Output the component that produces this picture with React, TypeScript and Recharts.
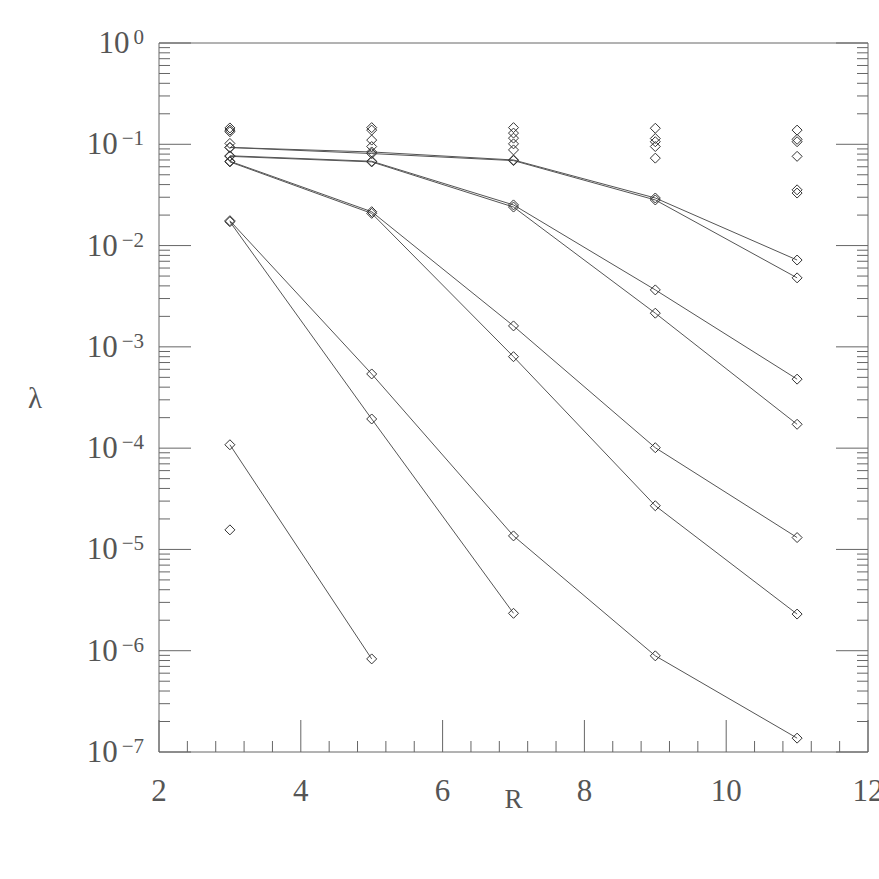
import React from 'react';
import { ScatterChart, Scatter, XAxis, YAxis } from 'recharts';

// ---- data ----
const R_VALUES = [3, 5, 7, 9, 11];

// connected series (values at R = 3, 5, 7, 9, 11)
const SERIES_A1 = [0.093, 0.084, 0.070, 0.0295, 0.0072];
const SERIES_A2 = [0.093, 0.081, 0.069, 0.0282, 0.0048];
const SERIES_B1 = [0.077, 0.068, 0.0252, 0.00365, 0.00048];
const SERIES_B2 = [0.076, 0.067, 0.024, 0.00215, 0.000172];
const SERIES_C1 = [0.068, 0.0216, 0.00161, 0.000101, 0.0000131];
const SERIES_C2 = [0.067, 0.0208, 0.0008, 0.000027, 0.0000023];
const SERIES_D1 = [0.0176, 0.00054, 0.0000136, 0.00000089, 0.000000137];
const SERIES_D2 = [0.0172, 0.000194, 0.00000234];
const SERIES_E1 = [0.000108, 0.00000083];

// isolated points
const POINTS_R3 = [0.145, 0.138, 0.133, 0.102, 0.0000156];
const POINTS_R5 = [0.146, 0.138, 0.11, 0.095];
const POINTS_R7 = [0.146, 0.129, 0.115, 0.101, 0.088];
const POINTS_R9 = [0.144, 0.114, 0.106, 0.095, 0.073];
const POINTS_R11 = [0.138, 0.112, 0.106, 0.076, 0.0355, 0.033];

// axis ticks
const X_TICKS = [2, 2.4, 2.8, 3.2, 3.6, 4, 4.4, 4.8, 5.2, 5.6, 6, 6.4, 6.8, 7.2, 7.6, 8, 8.4, 8.8, 9.2, 9.6, 10, 10.4, 10.8, 11.2, 11.6, 12];
const X_LABELED = [2, 4, 6, 8, 10, 12];
const DECADE_EXPONENTS = [-7, -6, -5, -4, -3, -2, -1, 0];
const MINOR_MULTIPLIERS = [2, 3, 4, 5, 6, 7, 8, 9];
const Y_TICKS: number[] = [];
DECADE_EXPONENTS.forEach((e) => {
  Y_TICKS.push(Math.pow(10, e));
  if (e < 0) MINOR_MULTIPLIERS.forEach((m) => Y_TICKS.push(m * Math.pow(10, e)));
});

const toPoints = (vals: number[]) => vals.map((v, i) => ({ x: R_VALUES[i], y: v }));
const toColumn = (r: number, vals: number[]) => vals.map((v) => ({ x: r, y: v }));

const LINES = [SERIES_A1, SERIES_A2, SERIES_B1, SERIES_B2, SERIES_C1, SERIES_C2, SERIES_D1, SERIES_D2, SERIES_E1];
const COLUMNS: [number, number[]][] = [
  [3, POINTS_R3],
  [5, POINTS_R5],
  [7, POINTS_R7],
  [9, POINTS_R9],
  [11, POINTS_R11],
];

// ---- styles ----
const AXIS = '#666';
const TEXT = '#555';
const LINE = '#555';
const MARK = '#333';
const FONT = '"Liberation Serif", "DejaVu Serif", serif';
const MAJOR = 32;
const MINOR = 11;

const isMajorX = (v: number) => X_LABELED.some((t) => Math.abs(t - v) < 1e-6);
const decadeOf = (v: number) => {
  const e = Math.log10(v);
  const r = Math.round(e);
  return Math.abs(e - r) < 1e-6 ? r : null;
};

const BottomTick = (props: any) => {
  const { x, y, payload } = props;
  const major = isMajorX(payload.value);
  return (
    <g>
      <line x1={x} y1={y} x2={x} y2={y - (major ? MAJOR : MINOR)} stroke={AXIS} strokeWidth={1} />
      {major && (
        <text x={x} y={y + 49} textAnchor="middle" fontSize={31} fill={TEXT} fontFamily={FONT}>
          {Math.round(payload.value)}
        </text>
      )}
    </g>
  );
};

const TopTick = (props: any) => {
  const { x, y, payload } = props;
  const major = isMajorX(payload.value);
  return <line x1={x} y1={y} x2={x} y2={y + (major ? MAJOR : MINOR)} stroke={AXIS} strokeWidth={1} />;
};

const LeftTick = (props: any) => {
  const { x, y, payload } = props;
  const d = decadeOf(payload.value);
  const major = d !== null;
  return (
    <g>
      <line x1={x} y1={y} x2={x + (major ? MAJOR : MINOR)} y2={y} stroke={AXIS} strokeWidth={1} />
      {major && (
        <text x={x - 15} y={y + 10} textAnchor="end" fontSize={31} fill={TEXT} fontFamily={FONT}>
          <tspan>10</tspan>
          <tspan dy={-9} dx={4} fontSize={21}>{d === 0 ? '0' : '\u2212' + String(-(d as number))}</tspan>
        </text>
      )}
    </g>
  );
};

const RightTick = (props: any) => {
  const { x, y, payload } = props;
  const major = decadeOf(payload.value) !== null;
  return <line x1={x} y1={y} x2={x - (major ? MAJOR : MINOR)} y2={y} stroke={AXIS} strokeWidth={1} />;
};

const Diamond = (props: any) => {
  const { cx, cy } = props;
  if (cx == null || cy == null) return null;
  const s = 5;
  return (
    <path
      d={`M${cx},${cy - s} L${cx + s},${cy} L${cx},${cy + s} L${cx - s},${cy} Z`}
      fill="none"
      stroke={MARK}
      strokeWidth={1}
    />
  );
};

export default function App() {
  return (
    <div style={{ position: 'absolute', left: 0, top: 0 }}>
      <ScatterChart width={879} height={879} margin={{ top: 42, right: 10, bottom: 7, left: 8 }}>
        <XAxis
          dataKey="x"
          type="number"
          domain={[2, 12]}
          ticks={X_TICKS}
          interval={0}
          height={120}
          tickSize={0}
          tickMargin={0}
          tickLine={false}
          axisLine={{ stroke: AXIS }}
          tick={<BottomTick />}
          label={{ value: 'R', position: 'insideBottom', offset: 64, fontSize: 27, fill: TEXT, fontFamily: FONT }}
          allowDataOverflow
        />
        <XAxis
          xAxisId="top"
          orientation="top"
          type="number"
          domain={[2, 12]}
          ticks={X_TICKS}
          interval={0}
          height={1}
          tickSize={0}
          tickMargin={0}
          tickLine={false}
          axisLine={{ stroke: AXIS }}
          tick={<TopTick />}
          allowDataOverflow
        />
        <YAxis
          dataKey="y"
          type="number"
          scale="log"
          domain={[1e-7, 1]}
          ticks={Y_TICKS}
          interval={0}
          width={151}
          tickSize={0}
          tickMargin={0}
          tickLine={false}
          axisLine={{ stroke: AXIS }}
          tick={<LeftTick />}
          label={{ value: 'λ', position: 'insideLeft', offset: 20, fontSize: 29, fill: TEXT, fontFamily: FONT }}
          allowDataOverflow
        />
        <YAxis
          yAxisId="right"
          orientation="right"
          type="number"
          scale="log"
          domain={[1e-7, 1]}
          ticks={Y_TICKS}
          interval={0}
          width={1}
          tickSize={0}
          tickMargin={0}
          tickLine={false}
          axisLine={{ stroke: AXIS }}
          tick={<RightTick />}
          allowDataOverflow
        />
        {LINES.map((vals, i) => (
          <Scatter
            key={'line' + i}
            data={toPoints(vals)}
            line={{ stroke: LINE, strokeWidth: 1 }}
            lineType="joint"
            shape={<Diamond />}
            isAnimationActive={false}
          />
        ))}
        {COLUMNS.map(([r, vals]) => (
          <Scatter key={'col' + r} data={toColumn(r, vals)} shape={<Diamond />} isAnimationActive={false} />
        ))}
      </ScatterChart>
    </div>
  );
}
